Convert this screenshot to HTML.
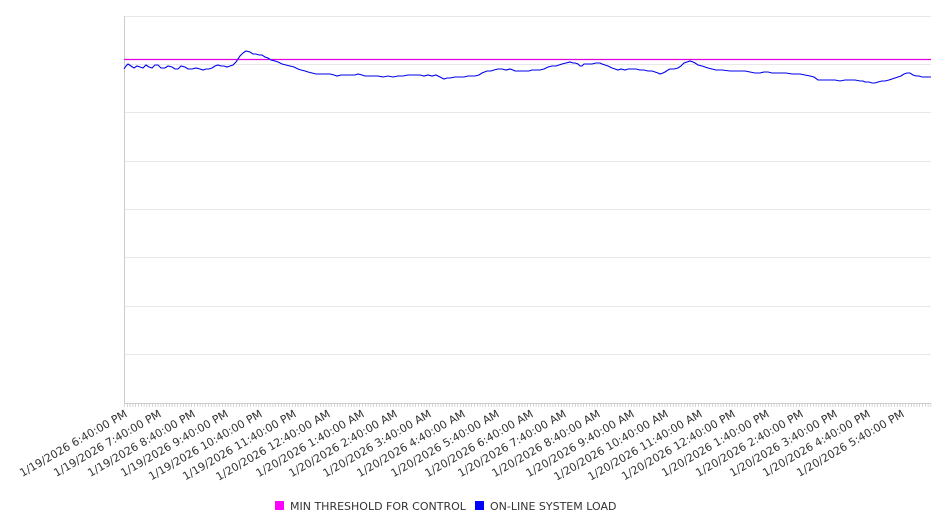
<!DOCTYPE html>
<html><head><meta charset="utf-8"><style>
body{margin:0;background:#fff;}
svg{display:block;font-family:"DejaVu Sans","Liberation Sans",sans-serif;}
</style></head><body>
<svg width="946" height="526" viewBox="0 0 946 526">
<g stroke="#e8e8e8" stroke-width="1">
<line x1="124" y1="16.5" x2="931" y2="16.5"/>
<line x1="124" y1="64.5" x2="931" y2="64.5"/>
<line x1="124" y1="112.5" x2="931" y2="112.5"/>
<line x1="124" y1="161.5" x2="931" y2="161.5"/>
<line x1="124" y1="209.5" x2="931" y2="209.5"/>
<line x1="124" y1="257.5" x2="931" y2="257.5"/>
<line x1="124" y1="306.5" x2="931" y2="306.5"/>
<line x1="124" y1="354.5" x2="931" y2="354.5"/>
</g>
<line x1="124.5" y1="16" x2="124.5" y2="403" stroke="#ccc"/>
<line x1="124" y1="403.5" x2="931" y2="403.5" stroke="#ccc"/>
<line x1="124" y1="59.5" x2="931" y2="59.5" stroke="#e000e0" stroke-width="1.2"/>
<polyline fill="none" stroke="#0000ee" stroke-width="1.1" points="124,69 126,66 128,64 131,66 134,68 137,66 140,67 143,68 146,65 149,67 152,68 155,65 158,65 161,68 165,68 168,66 172,67 175,69 178,69 181,66 185,67 188,69 192,69 196,68 200,69 203,70 206,69 209,69 212,68 215,66 218,65 221,66 224,66 227,67 230,66 233,65 236,62 240,56 243,53 246,51 250,52 253,54 256,54 259,55 262,55 265,57 268,58 271,60 275,61 278,62 282,64 286,65 290,66 294,67 298,69 301,70 305,71 308,72 312,73 316,74 320,74 325,74 330,74 334,75 337,76 341,75 345,75 350,75 355,75 358,74 362,75 365,76 368,76 372,76 378,76 383,77 388,76 393,77 398,76 403,76 408,75 414,75 420,75 424,76 428,75 432,76 436,75 440,77 444,79 447,78 450,78 455,77 460,77 464,77 468,76 472,76 475,76 479,75 482,73 487,71 491,71 494,70 498,69 502,69 506,70 510,69 513,70 515,71 520,71 525,71 529,71 532,70 536,70 540,70 544,69 548,67 552,66 556,66 559,65 562,64 566,63 570,62 573,63 575,63 578,64 580,66 582,66 584,64 588,64 592,64 596,63 600,63 602,64 605,65 608,66 612,68 615,69 618,70 621,69 625,70 628,69 632,69 636,69 640,70 644,70 648,71 652,71 655,72 658,73 660,74 663,73 665,72 668,70 670,69 674,69 678,68 681,66 684,63 687,62 690,61 693,62 695,63 698,65 702,66 705,67 708,68 712,69 716,70 722,70 730,71 738,71 745,71 750,72 755,73 760,73 764,72 768,72 772,73 776,73 780,73 786,73 792,74 796,74 800,74 805,75 810,76 814,77 818,80 824,80 830,80 835,80 840,81 845,80 850,80 855,80 860,81 863,81 865,82 869,82 872,83 875,83 878,82 882,81 885,81 889,80 892,79 895,78 898,77 901,76 904,74 907,73 910,73 913,75 916,76 919,76 922,77 926,77 931,77"/>
<g font-size="11" fill="#333" text-anchor="end">
<text transform="translate(128,416) rotate(-30)">1/19/2026 6:40:00 PM</text>
<text transform="translate(162,416) rotate(-30)">1/19/2026 7:40:00 PM</text>
<text transform="translate(196,416) rotate(-30)">1/19/2026 8:40:00 PM</text>
<text transform="translate(229,416) rotate(-30)">1/19/2026 9:40:00 PM</text>
<text transform="translate(263,416) rotate(-30)">1/19/2026 10:40:00 PM</text>
<text transform="translate(297,416) rotate(-30)">1/19/2026 11:40:00 PM</text>
<text transform="translate(331,416) rotate(-30)">1/20/2026 12:40:00 AM</text>
<text transform="translate(365,416) rotate(-30)">1/20/2026 1:40:00 AM</text>
<text transform="translate(398,416) rotate(-30)">1/20/2026 2:40:00 AM</text>
<text transform="translate(432,416) rotate(-30)">1/20/2026 3:40:00 AM</text>
<text transform="translate(466,416) rotate(-30)">1/20/2026 4:40:00 AM</text>
<text transform="translate(500,416) rotate(-30)">1/20/2026 5:40:00 AM</text>
<text transform="translate(534,416) rotate(-30)">1/20/2026 6:40:00 AM</text>
<text transform="translate(567,416) rotate(-30)">1/20/2026 7:40:00 AM</text>
<text transform="translate(601,416) rotate(-30)">1/20/2026 8:40:00 AM</text>
<text transform="translate(635,416) rotate(-30)">1/20/2026 9:40:00 AM</text>
<text transform="translate(669,416) rotate(-30)">1/20/2026 10:40:00 AM</text>
<text transform="translate(703,416) rotate(-30)">1/20/2026 11:40:00 AM</text>
<text transform="translate(736,416) rotate(-30)">1/20/2026 12:40:00 PM</text>
<text transform="translate(770,416) rotate(-30)">1/20/2026 1:40:00 PM</text>
<text transform="translate(804,416) rotate(-30)">1/20/2026 2:40:00 PM</text>
<text transform="translate(838,416) rotate(-30)">1/20/2026 3:40:00 PM</text>
<text transform="translate(871,416) rotate(-30)">1/20/2026 4:40:00 PM</text>
<text transform="translate(905,416) rotate(-30)">1/20/2026 5:40:00 PM</text>
</g>
<rect x="275" y="501" width="9" height="9" fill="#ff00ff"/>
<text x="290" y="510" font-size="11" fill="#333">MIN THRESHOLD FOR CONTROL</text>
<rect x="475" y="501" width="9" height="9" fill="#0000ff"/>
<text x="490" y="510" font-size="11" fill="#333">ON-LINE SYSTEM LOAD</text>
<path stroke="#bbb" stroke-width="0.6" fill="none" d="M124.5 404v3M127.3 404v3M130.1 404v3M132.9 404v3M135.7 404v3M138.5 404v3M141.3 404v3M144.1 404v3M146.9 404v3M149.7 404v3M152.5 404v3M155.3 404v3M158.1 404v3M160.9 404v3M163.7 404v3M166.5 404v3M169.3 404v3M172.1 404v3M174.9 404v3M177.7 404v3M180.5 404v3M183.3 404v3M186.1 404v3M188.9 404v3M191.7 404v3M194.5 404v3M197.3 404v3M200.1 404v3M202.9 404v3M205.7 404v3M208.5 404v3M211.3 404v3M214.1 404v3M216.9 404v3M219.7 404v3M222.5 404v3M225.3 404v3M228.1 404v3M230.9 404v3M233.7 404v3M236.5 404v3M239.3 404v3M242.1 404v3M244.9 404v3M247.7 404v3M250.5 404v3M253.3 404v3M256.1 404v3M258.9 404v3M261.7 404v3M264.5 404v3M267.3 404v3M270.1 404v3M272.9 404v3M275.7 404v3M278.5 404v3M281.3 404v3M284.1 404v3M286.9 404v3M289.7 404v3M292.5 404v3M295.3 404v3M298.1 404v3M300.9 404v3M303.7 404v3M306.5 404v3M309.3 404v3M312.1 404v3M314.9 404v3M317.7 404v3M320.5 404v3M323.3 404v3M326.1 404v3M328.9 404v3M331.7 404v3M334.5 404v3M337.3 404v3M340.1 404v3M342.9 404v3M345.7 404v3M348.5 404v3M351.3 404v3M354.1 404v3M356.9 404v3M359.7 404v3M362.5 404v3M365.3 404v3M368.1 404v3M370.9 404v3M373.7 404v3M376.5 404v3M379.3 404v3M382.1 404v3M384.9 404v3M387.7 404v3M390.5 404v3M393.3 404v3M396.1 404v3M398.9 404v3M401.7 404v3M404.5 404v3M407.3 404v3M410.1 404v3M412.9 404v3M415.7 404v3M418.5 404v3M421.3 404v3M424.1 404v3M426.9 404v3M429.7 404v3M432.5 404v3M435.3 404v3M438.1 404v3M440.9 404v3M443.7 404v3M446.5 404v3M449.3 404v3M452.1 404v3M454.9 404v3M457.7 404v3M460.5 404v3M463.3 404v3M466.1 404v3M468.9 404v3M471.7 404v3M474.5 404v3M477.3 404v3M480.1 404v3M482.9 404v3M485.7 404v3M488.5 404v3M491.3 404v3M494.1 404v3M496.9 404v3M499.7 404v3M502.5 404v3M505.3 404v3M508.1 404v3M510.9 404v3M513.7 404v3M516.5 404v3M519.3 404v3M522.1 404v3M524.9 404v3M527.7 404v3M530.5 404v3M533.3 404v3M536.1 404v3M538.9 404v3M541.7 404v3M544.5 404v3M547.3 404v3M550.1 404v3M552.9 404v3M555.7 404v3M558.5 404v3M561.3 404v3M564.1 404v3M566.9 404v3M569.7 404v3M572.5 404v3M575.3 404v3M578.1 404v3M580.9 404v3M583.7 404v3M586.5 404v3M589.3 404v3M592.1 404v3M594.9 404v3M597.7 404v3M600.5 404v3M603.3 404v3M606.1 404v3M608.9 404v3M611.7 404v3M614.5 404v3M617.3 404v3M620.1 404v3M622.9 404v3M625.7 404v3M628.5 404v3M631.3 404v3M634.1 404v3M636.9 404v3M639.7 404v3M642.5 404v3M645.3 404v3M648.1 404v3M650.9 404v3M653.7 404v3M656.5 404v3M659.3 404v3M662.1 404v3M664.9 404v3M667.7 404v3M670.5 404v3M673.3 404v3M676.1 404v3M678.9 404v3M681.7 404v3M684.5 404v3M687.3 404v3M690.1 404v3M692.9 404v3M695.7 404v3M698.5 404v3M701.3 404v3M704.1 404v3M706.9 404v3M709.7 404v3M712.5 404v3M715.3 404v3M718.1 404v3M720.9 404v3M723.7 404v3M726.5 404v3M729.3 404v3M732.1 404v3M734.9 404v3M737.7 404v3M740.5 404v3M743.3 404v3M746.1 404v3M748.9 404v3M751.7 404v3M754.5 404v3M757.3 404v3M760.1 404v3M762.9 404v3M765.7 404v3M768.5 404v3M771.3 404v3M774.1 404v3M776.9 404v3M779.7 404v3M782.5 404v3M785.3 404v3M788.1 404v3M790.9 404v3M793.7 404v3M796.5 404v3M799.3 404v3M802.1 404v3M804.9 404v3M807.7 404v3M810.5 404v3M813.3 404v3M816.1 404v3M818.9 404v3M821.7 404v3M824.5 404v3M827.3 404v3M830.1 404v3M832.9 404v3M835.7 404v3M838.5 404v3M841.3 404v3M844.1 404v3M846.9 404v3M849.7 404v3M852.5 404v3M855.3 404v3M858.1 404v3M860.9 404v3M863.7 404v3M866.5 404v3M869.3 404v3M872.1 404v3M874.9 404v3M877.7 404v3M880.5 404v3M883.3 404v3M886.1 404v3M888.9 404v3M891.7 404v3M894.5 404v3M897.3 404v3M900.1 404v3M902.9 404v3M905.7 404v3M908.5 404v3M911.3 404v3M914.1 404v3M916.9 404v3M919.7 404v3M922.5 404v3M925.3 404v3M928.1 404v3M930.9 404v3"/>
</svg>
</body></html>
